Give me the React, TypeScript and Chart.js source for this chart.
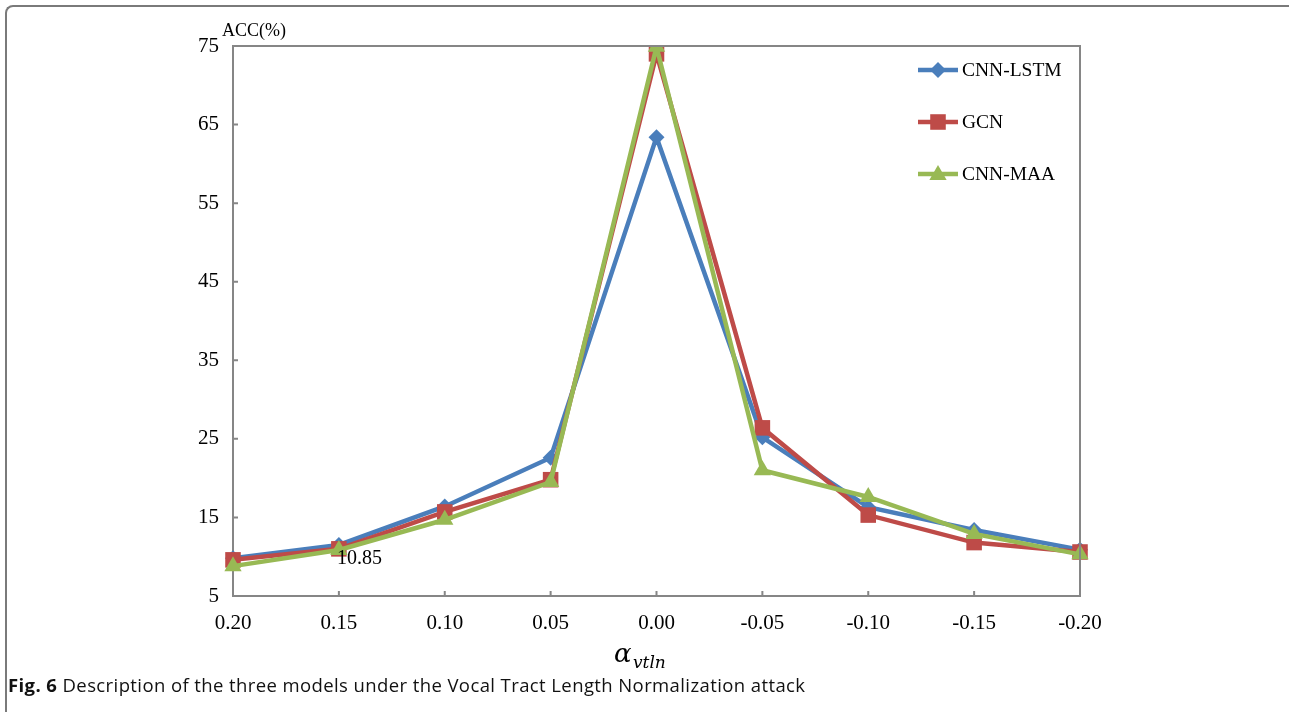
import React, { useEffect, useRef } from "react";
import { Chart, registerables } from "chart.js";

Chart.register(...registerables);

const categories = ["0.20", "0.15", "0.10", "0.05", "0.00", "-0.05", "-0.10", "-0.15", "-0.20"];
const cnnLstm = [9.8, 11.5, 16.4, 22.6, 63.4, 25.2, 16.3, 13.4, 10.9];
const gcn = [9.6, 11.0, 15.7, 19.8, 74.0, 26.4, 15.3, 11.8, 10.6];
const cnnMaa = [8.8, 10.85, 14.7, 19.5, 74.9, 21.0, 17.6, 12.9, 10.3];
const yTicks = { min: 5, max: 75, step: 10 };
const seriesNames = ["CNN-LSTM", "GCN", "CNN-MAA"];
const annotationText = "10.85";

const BLUE = "#4A7EBB";
const RED = "#BE4B48";
const GREEN = "#98B954";
const AXIS = "#868686";
const SERIF = "'Liberation Serif', 'Times New Roman', serif";

function drawMarker(ctx: CanvasRenderingContext2D, style: string, x: number, y: number, r: number, color: string) {
  ctx.save();
  ctx.fillStyle = color;
  ctx.beginPath();
  if (style === "rectRot") {
    ctx.moveTo(x, y - r);
    ctx.lineTo(x + r, y);
    ctx.lineTo(x, y + r);
    ctx.lineTo(x - r, y);
  } else if (style === "rect") {
    const s = r * Math.SQRT1_2;
    ctx.rect(x - s, y - s, 2 * s, 2 * s);
  } else {
    ctx.moveTo(x, y - r);
    ctx.lineTo(x + r * Math.sin(Math.PI / 3), y + r * 0.5);
    ctx.lineTo(x - r * Math.sin(Math.PI / 3), y + r * 0.5);
  }
  ctx.closePath();
  ctx.fill();
  ctx.restore();
}

const decorPlugin = {
  id: "decor",
  afterDraw(chart: any) {
    const ctx: CanvasRenderingContext2D = chart.ctx;
    const { left, right, top, bottom } = chart.chartArea;
    const xs = chart.scales.x;
    const ys = chart.scales.y;
    ctx.save();
    ctx.strokeStyle = AXIS;
    ctx.lineWidth = 2;
    ctx.beginPath();
    ctx.moveTo(left, top);
    ctx.lineTo(right, top);
    ctx.lineTo(right, bottom);
    ctx.stroke();
    ctx.beginPath();
    xs.ticks.forEach((_: any, i: number) => {
      const px = xs.getPixelForTick(i);
      ctx.moveTo(px, bottom);
      ctx.lineTo(px, bottom - 5);
    });
    ys.ticks.forEach((_: any, i: number) => {
      const py = ys.getPixelForTick(i);
      ctx.moveTo(left, py);
      ctx.lineTo(left + 5, py);
    });
    ctx.stroke();

    ctx.fillStyle = "#000";
    ctx.font = `18px ${SERIF}`;
    ctx.textAlign = "left";
    ctx.textBaseline = "alphabetic";
    ctx.fillText("ACC(%)", left - 11, top - 10);

    ctx.font = `italic 26px 'DejaVu Serif', ${SERIF}`;
    ctx.fillText("α", 614, 662);
    ctx.font = `italic 17px 'DejaVu Serif', ${SERIF}`;
    ctx.fillText("vtln", 633, 668);

    const meta = chart.getDatasetMeta(2);
    const pt = meta.data[1];
    ctx.font = `20px ${SERIF}`;
    ctx.fillText(annotationText, pt.x - 2, pt.y + 14);

    const legendItems = [
      { name: seriesNames[0], color: BLUE, style: "rectRot", r: 8, y: 70 },
      { name: seriesNames[1], color: RED, style: "rect", r: 11, y: 122 },
      { name: seriesNames[2], color: GREEN, style: "triangle", r: 10, y: 174 },
    ];
    legendItems.forEach((it) => {
      ctx.strokeStyle = it.color;
      ctx.lineWidth = 4.5;
      ctx.beginPath();
      ctx.moveTo(918, it.y);
      ctx.lineTo(958, it.y);
      ctx.stroke();
      drawMarker(ctx, it.style, 938, it.style === "triangle" ? it.y + 1 : it.y, it.r, it.color);
      ctx.fillStyle = "#000";
      ctx.font = `19.5px ${SERIF}`;
      ctx.textBaseline = "middle";
      ctx.fillText(it.name, 962, it.y + 1);
    });
    ctx.restore();
  },
};

export default function App() {
  const canvasRef = useRef<HTMLCanvasElement | null>(null);

  useEffect(() => {
    const canvas = canvasRef.current;
    if (!canvas) return;
    const mk = (label: string, data: number[], color: string, pointStyle: string, r: number, order: number) => ({
      label,
      data,
      borderColor: color,
      backgroundColor: color,
      borderWidth: 4.5,
      pointStyle,
      pointRadius: r,
      pointBorderWidth: 0,
      pointBackgroundColor: color,
      tension: 0,
      order,
    });
    const chart = new Chart(canvas, {
      type: "line",
      data: {
        labels: categories,
        datasets: [
          mk(seriesNames[0], cnnLstm, BLUE, "rectRot", 8, 2),
          mk(seriesNames[1], gcn, RED, "rect", 11, 1),
          mk(seriesNames[2], cnnMaa, GREEN, "triangle", 10, 0),
        ],
      },
      options: {
        responsive: false,
        animation: false,
        layout: { padding: { top: 46, right: 209, left: 0, bottom: 0 } },
        plugins: { legend: { display: false }, tooltip: { enabled: false } },
        scales: {
          x: {
            type: "category",
            offset: false,
            grid: { display: false, drawTicks: false },
            border: { display: true, color: AXIS, width: 2 },
            ticks: { color: "#000", font: { family: SERIF, size: 21 }, padding: 15, maxRotation: 0, autoSkip: false },
            afterFit: (s: any) => { s.height = 116; },
          },
          y: {
            min: yTicks.min,
            max: yTicks.max,
            grid: { display: false, drawTicks: false },
            border: { display: true, color: AXIS, width: 2 },
            ticks: { stepSize: yTicks.step, color: "#000", font: { family: SERIF, size: 21 }, padding: 14 },
            afterFit: (s: any) => { s.width = 233; },
          },
        },
      } as any,
      plugins: [decorPlugin],
    });
    return () => chart.destroy();
  }, []);

  return (
    <div style={{ position: "fixed", left: 0, top: 0, width: 1289, height: 712, background: "#fff", overflow: "hidden" }}>
      <div
        style={{
          position: "absolute",
          left: 5,
          top: 5,
          width: 1300,
          height: 720,
          borderTop: "2px solid #7a7a7a",
          borderLeft: "2px solid #7a7a7a",
          borderTopLeftRadius: 8,
        }}
      />
      <canvas ref={canvasRef} width={1289} height={712} style={{ position: "absolute", left: 0, top: 0 }} />
      <div
        style={{
          position: "absolute",
          left: 8,
          top: 672,
          fontFamily: "'Open Sans', 'Noto Sans', sans-serif",
          fontSize: 18.5,
          letterSpacing: 0.4,
          color: "#111",
          whiteSpace: "nowrap",
        }}
      >
        <b>Fig. 6</b> Description of the three models under the Vocal Tract Length Normalization attack
      </div>
    </div>
  );
}
